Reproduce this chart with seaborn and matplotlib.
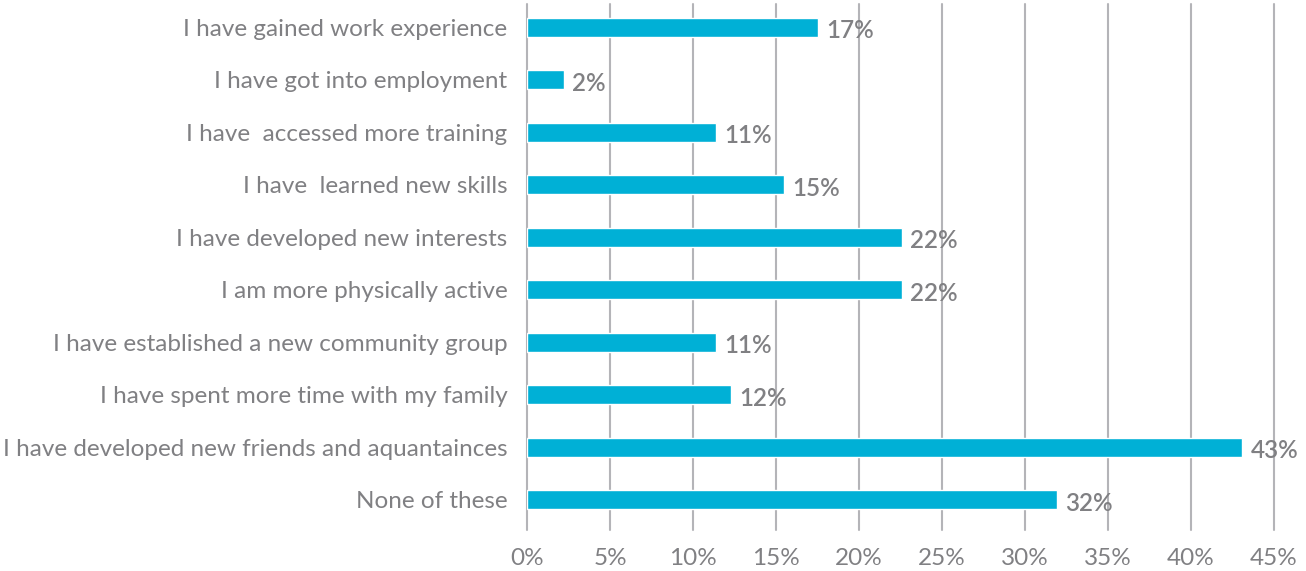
import matplotlib
matplotlib.use("Agg")
import matplotlib.pyplot as plt
import seaborn as sns
import pandas as pd

# data
categories = [
    "I have gained work experience",
    "I have got into employment",
    "I have  accessed more training",
    "I have  learned new skills",
    "I have developed new interests",
    "I am more physically active",
    "I have established a new community group",
    "I have spent more time with my family",
    "I have developed new friends and aquantainces",
    "None of these",
]
values = [17.5, 2.2, 11.4, 15.5, 22.6, 22.6, 11.4, 12.3, 43.1, 31.9]
value_labels = ["17%", "2%", "11%", "15%", "22%", "22%", "11%", "12%", "43%", "32%"]
x_ticks = [0, 5, 10, 15, 20, 25, 30, 35, 40, 45]

df = pd.DataFrame({"category": categories, "value": values})

sns.set_style("white")
plt.rcParams["font.family"] = ["Lato", "DejaVu Sans"]

bar_color = "#00B0D6"
text_color = "#808083"
grid_color = "#B4B4B8"

fig = plt.figure(figsize=(13.06, 5.71), dpi=100)
ax = fig.add_axes([527 / 1306, 1 - 530 / 571, (1274 - 527) / 1306, 526 / 571])

sns.barplot(data=df, x="value", y="category", color=bar_color, width=0.36,
            saturation=1, ax=ax, zorder=3)

for i, (v, lab) in enumerate(zip(values, value_labels)):
    ax.annotate(lab, (v, i), xytext=(6, -2.5), textcoords="offset points",
                ha="left", va="center", fontsize=17.5, fontweight="semibold",
                color=text_color, zorder=4)

ax.set_xlim(0, 45)
ax.set_ylim(9.58, -0.44)
ax.set_xticks(x_ticks)
ax.set_xticklabels([f"{t}%" for t in x_ticks])
for t in x_ticks:
    ax.axvline(t, color=grid_color, lw=1.5, zorder=1, clip_on=False)

ax.set_xlabel("")
ax.set_ylabel("")
ax.tick_params(axis="x", length=0, pad=13, labelsize=17.5, labelcolor=text_color)
ax.tick_params(axis="y", length=0, pad=14, labelsize=17.5, labelcolor=text_color)
sns.despine(ax=ax, left=True, bottom=True)

fig.savefig("out.png", dpi=100)
